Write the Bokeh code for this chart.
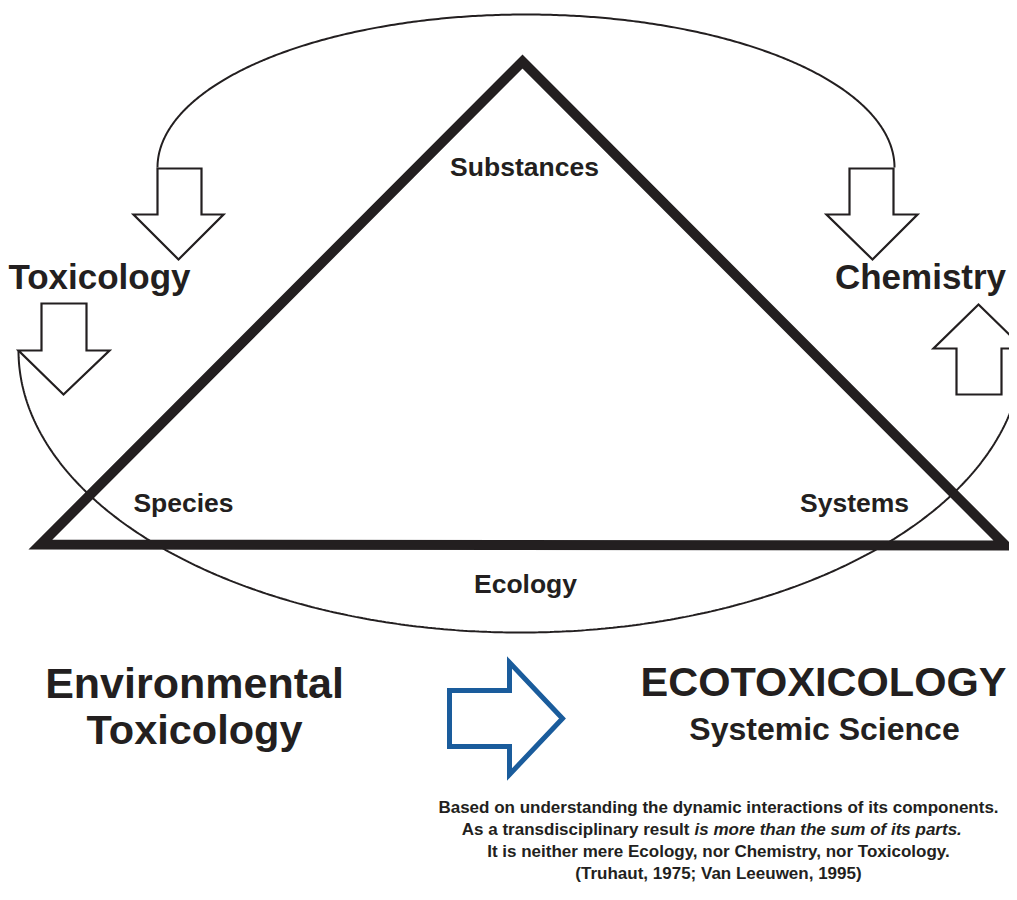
import numpy as np
from bokeh.plotting import figure
from bokeh.models import Range1d
from bokeh.core.properties import value
from bokeh.embed import file_html
from bokeh.resources import INLINE

# ---- content (texts) ----
corner_labels = ["Substances", "Species", "Systems", "Ecology"]
discipline_labels = ["Toxicology", "Chemistry"]
left_title = ["Environmental", "Toxicology"]
right_title = "ECOTOXICOLOGY"
right_subtitle = "Systemic Science"
note_lines = [
    "Based on understanding the dynamic interactions of its components.",
    "As a transdisciplinary result",
    "It is neither mere Ecology, nor Chemistry, nor Toxicology.",
    "(Truhaut, 1975; Van Leeuwen, 1995)",
]
note_italic = "is more than the sum of its parts."

INK = "#231f20"
BLUE = "#1a5c9c"
FONT = value("Liberation Sans")

W, H = 1009, 884

# ---- geometry (picture pixel coordinates) ----
tri_x = [40, 522, 1005]
tri_y = [544, 61, 545]

upper_arc = dict(cx=525.5, cy=167, a=368.5, b=153)
lower_arc = dict(cx=520, cy=350, a=502, b=282)

def down_arrow(sx0, sx1, top, base, hx0, hx1, tipx, tipy):
    return ([sx0, sx1, sx1, hx1, tipx, hx0, sx0], [top, top, base, base, tipy, base, base])

def up_arrow(sx0, sx1, bottom, base, hx0, hx1, tipx, tipy):
    return ([sx0, sx1, sx1, hx1, tipx, hx0, sx0], [bottom, bottom, base, base, tipy, base, base])

arrows = [
    down_arrow(157, 201, 168, 214, 133, 223, 178, 259),
    down_arrow(849, 893, 168, 214, 826, 917, 872, 259),
    down_arrow(41, 86, 303, 350, 18, 109, 63, 394),
    up_arrow(956, 1001, 394, 348, 933, 1023, 978, 304),
]
blue_x = [449, 509, 509, 562, 509, 509, 449]
blue_y = [690, 690, 662, 718, 774, 746, 746]

p = figure(width=W, height=H, x_range=Range1d(0, W), y_range=Range1d(H, 0),
           output_backend="svg", toolbar_location=None, min_border=0,
           x_axis_location=None, y_axis_location=None)
p.grid.grid_line_color = None
p.outline_line_color = None
p.background_fill_color = "white"
p.border_fill_color = "white"

# arcs
t = np.linspace(0, np.pi, 400)
ua, la = upper_arc, lower_arc
p.line(ua["cx"] + ua["a"] * np.cos(t), ua["cy"] - ua["b"] * np.sin(t), line_color=INK, line_width=2)
p.line(la["cx"] + la["a"] * np.cos(t), la["cy"] + la["b"] * np.sin(t), line_color=INK, line_width=2)

# arrows
for ax, ay in arrows:
    p.patch(ax, ay, fill_color="white", line_color=INK, line_width=2.2, line_join="miter")
p.patch(blue_x, blue_y, fill_color="white", line_color=BLUE, line_width=5, line_join="miter")

# triangle
p.patch(tri_x, tri_y, fill_alpha=0, line_color=INK, line_width=10, line_join="miter")

def txt(x, y, s, size, align="center", style="bold"):
    # y is the visual centre of the capital letters
    p.text(x=[x], y=[y - 1], text=[s], text_font=FONT, text_font_style=style,
           text_font_size=size, text_align=align, text_baseline="alphabetic",
           text_color=INK)

# triangle labels
txt(524, 167, corner_labels[0], "26.5px")
txt(183, 503, corner_labels[1], "26.5px")
txt(854, 503, corner_labels[2], "26.5px")
txt(525, 584, corner_labels[3], "26.5px")

# disciplines
txt(99, 277, discipline_labels[0], "35px")
txt(920, 277, discipline_labels[1], "35px")

# bottom titles
txt(194, 683, left_title[0], "43px")
txt(194, 730, left_title[1], "41.5px")
txt(823, 682, right_title, "41.5px")
txt(824, 729, right_subtitle, "32px")

# notes (fitted inside the canvas)
NS = "17px"
txt(718, 808, note_lines[0], NS)
txt(689, 830, note_lines[1], NS, align="right")
txt(694, 830, note_italic, NS, align="left", style="bold italic")
txt(718, 852, note_lines[2], NS)
txt(718, 874, note_lines[3], NS)

open("out.html", "w").write(file_html(p, INLINE))
